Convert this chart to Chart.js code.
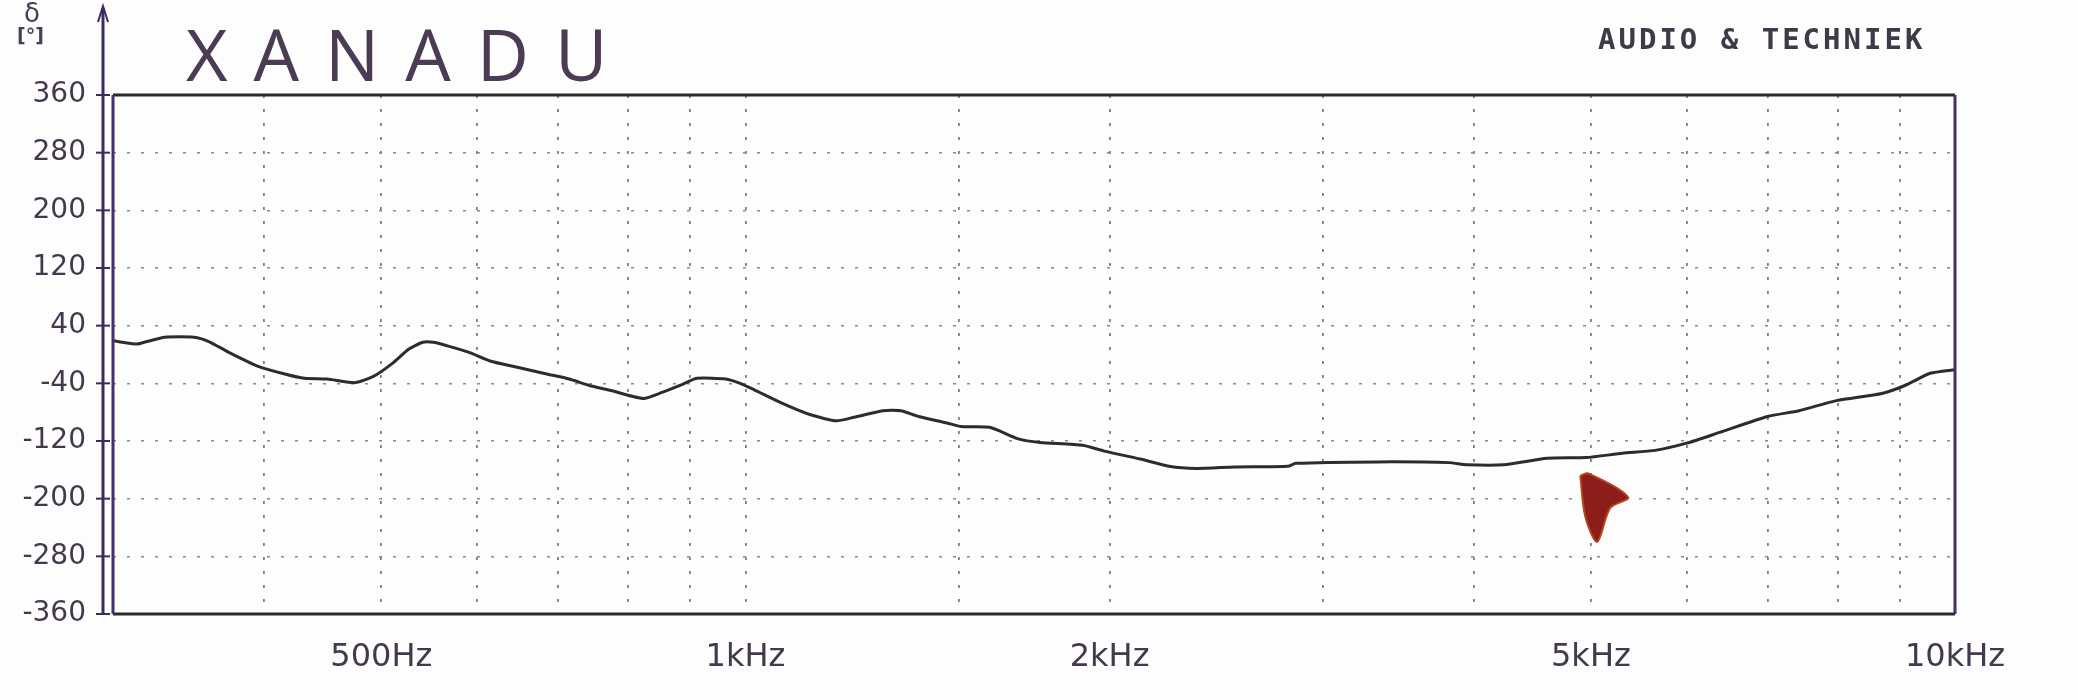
<!DOCTYPE html>
<html>
<head>
<meta charset="utf-8">
<script src="https://cdn.jsdelivr.net/npm/chart.js@4.4.1/dist/chart.umd.min.js"></script>
<style>
  html, body { margin: 0; padding: 0; background: #fdfdfd; }
  #wrap { position: relative; width: 2078px; height: 700px; }
  #grafico { position: absolute; left: 0; top: 0; }
  .txt { position: absolute; white-space: nowrap; }
  #titulo { left: 186px; top: 4px; font-family: "Open Sans", sans-serif; font-weight: 400; font-size: 72px; letter-spacing: 26px; color: #4b3b55; }
  #marca { left: 1598px; top: 22px; font-family: "DejaVu Sans Mono", monospace; font-weight: bold; font-size: 29px; letter-spacing: 3px; color: #3f3a48; }
  #unidad1 { left: 24px; top: -2px; font-family: "DejaVu Sans", sans-serif; font-size: 26px; color: #4a3d52; }
  #unidad2 { left: 17px; top: 24px; font-family: "DejaVu Sans", sans-serif; font-size: 19px; font-weight: bold; color: #4a3d52; }
</style>
</head>
<body>
<div id="wrap">
  <canvas id="grafico" width="2078" height="700"></canvas>
  <div class="txt" id="titulo">XANADU</div>
  <div class="txt" id="marca">AUDIO &amp; TECHNIEK</div>
  <div class="txt" id="unidad1">δ</div>
  <div class="txt" id="unidad2">[°]</div>
</div>
<script>
// fase (grados) contra frecuencia (Hz)
const freqHz = [300, 314, 320, 331, 350, 360, 374, 395, 416, 432, 451, 476, 493, 510, 527, 541, 552, 567, 591, 615,
    649, 685, 715, 743, 774, 806, 825, 852, 888, 912, 963, 990, 1017, 1074, 1134, 1189, 1230, 1299, 1344, 1390,
    1468, 1508, 1592, 1681, 1752, 1900, 1980, 2120, 2240, 2360, 2538, 2809, 2851, 3333, 3817, 3950, 4235, 4600, 4955, 5310,
    5650, 6000, 6390, 7000, 7430, 7980, 8700, 9090, 9540, 10000];
const faseGrados = [19, 14.5, 18, 24, 24, 18, 3, -16, -27, -33, -34, -39, -30, -13, 7.5, 17, 17, 12, 3, -9,
    -18, -27, -34, -43, -50, -58, -61, -53, -41, -33, -34, -40, -49, -68, -84, -92, -87, -78, -78, -86,
    -95, -100, -101, -117, -122, -126, -134, -145, -155, -158, -156, -155, -151, -149, -150, -153, -153, -144, -143, -137,
    -133, -123, -108, -86, -78, -64, -54, -43, -26, -21];

// lineas verticales de la reticula y etiquetas del eje x
const freqReticula = [400, 500, 600, 700, 800, 900, 1000, 1500, 2000, 3000, 4000, 5000, 6000, 7000, 8000, 9000, 10000];
const freqEtiquetas = [500, 1000, 2000, 5000, 10000];
const textoEtiquetas = ['500Hz', '1kHz', '2kHz', '5kHz', '10kHz'];

// mancha roja a mano cerca de 5 kHz
const manchaFreq = [4900, 4975, 5367, 5187, 5060, 4947, 4900];
const manchaGrados = [-168, -165, -198, -213, -260, -225, -168];

const colorTexto = '#44384c';

const marco = {
    id: 'marco',
    afterDraw(chart) {
        const ctx = chart.ctx;
        const a = chart.chartArea;
        const y = chart.scales.y;
        ctx.save();
        // caja del grafico
        ctx.lineWidth = 3;
        ctx.strokeStyle = '#2b2b2e';
        ctx.beginPath();
        ctx.moveTo(a.left, a.top); ctx.lineTo(a.right, a.top);
        ctx.moveTo(a.left, a.bottom); ctx.lineTo(a.right, a.bottom);
        ctx.stroke();
        ctx.strokeStyle = '#45306a';
        ctx.beginPath();
        ctx.moveTo(a.left, a.top); ctx.lineTo(a.left, a.bottom);
        ctx.moveTo(a.right, a.top); ctx.lineTo(a.right, a.bottom);
        ctx.stroke();

        // eje y con flecha y marcas
        const ex = a.left - 10;
        ctx.strokeStyle = '#3d2b5e';
        ctx.lineWidth = 3;
        ctx.beginPath();
        ctx.moveTo(ex, 8); ctx.lineTo(ex, a.bottom);
        ctx.stroke();
        ctx.lineWidth = 2;
        ctx.beginPath();
        ctx.moveTo(ex - 5, 22); ctx.lineTo(ex, 6); ctx.lineTo(ex + 5, 22);
        ctx.stroke();
        y.ticks.forEach(t => {
            const py = y.getPixelForValue(t.value);
            ctx.beginPath();
            ctx.moveTo(ex - 7, py); ctx.lineTo(ex + 7, py);
            ctx.stroke();
        });
        ctx.restore();
    }
};

const ctx = document.getElementById('grafico').getContext('2d');
new Chart(ctx, {
    type: 'line',
    data: {
        datasets: [{
            label: 'fase',
            data: freqHz.map((f, i) => ({ x: f, y: faseGrados[i] })),
            borderColor: '#2f2b2b',
            borderWidth: 3,
            pointRadius: 0,
            tension: 0.2,
            fill: false
        }, {
            label: 'mancha',
            data: manchaFreq.map((f, i) => ({ x: f, y: manchaGrados[i] })),
            borderColor: '#b5461d',
            backgroundColor: '#8c1d1a',
            borderWidth: 2,
            pointRadius: 0,
            tension: 0.3,
            fill: 'shape'
        }]
    },
    options: {
        responsive: false,
        animation: false,
        layout: { padding: { left: 0, top: 95, right: 123, bottom: 0 } },
        plugins: { legend: { display: false }, tooltip: { enabled: false } },
        scales: {
            x: {
                type: 'logarithmic',
                min: 300,
                max: 10000,
                afterBuildTicks: (axis) => { axis.ticks = freqReticula.map(v => ({ value: v })); },
                afterFit: (axis) => { axis.height = 86; },
                ticks: {
                    autoSkip: false,
                    maxRotation: 0,
                    padding: 24,
                    color: colorTexto,
                    font: { family: 'DejaVu Sans', size: 32 },
                    callback: (v) => {
                        const i = freqEtiquetas.indexOf(v);
                        return i >= 0 ? textoEtiquetas[i] : '';
                    }
                },
                grid: { color: '#7d7d7d', lineWidth: 1.8, drawTicks: false },
                border: { display: false, dash: [3, 11] }
            },
            y: {
                min: -360,
                max: 360,
                afterFit: (axis) => { axis.width = 113; },
                ticks: {
                    stepSize: 40,
                    padding: 27,
                    color: colorTexto,
                    font: { family: 'DejaVu Sans', size: 28 },
                    callback: (v) => ((v + 360) % 80 === 0 ? v : '')
                },
                grid: { color: '#8a8a8a', lineWidth: 1.6, drawTicks: false },
                border: { display: false, dash: [3, 11] }
            }
        }
    },
    plugins: [marco]
});
</script>
</body>
</html>
